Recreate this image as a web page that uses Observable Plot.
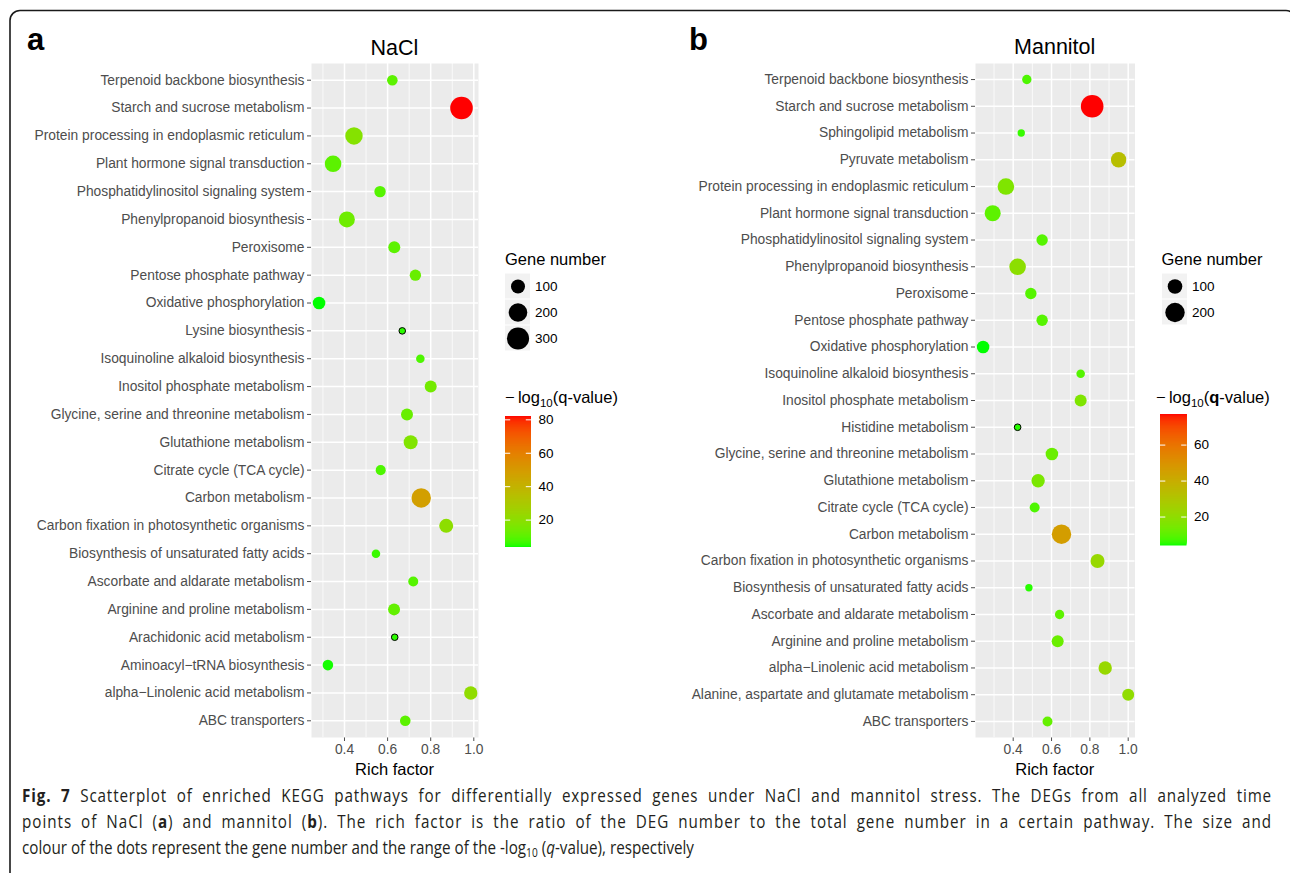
<!DOCTYPE html>
<html><head><meta charset="utf-8">
<script src="https://cdn.jsdelivr.net/npm/d3@7"></script>
<script src="https://cdn.jsdelivr.net/npm/@observablehq/plot@0.6"></script>
<style>
body{margin:0;background:#fff;}
#wrap{position:relative;width:1290px;height:873px;overflow:hidden;font-family:"Liberation Sans",Arial,sans-serif;background:#fff;}
.abs{position:absolute;}
.abs svg{display:block;overflow:visible;}
#cap{position:absolute;left:22px;top:782px;font-family:"Open Sans",sans-serif;font-size:18px;line-height:26px;color:#231F20;transform-origin:0 0;}
#cap .ln{white-space:nowrap;}
#cap sub{font-size:12px;line-height:0;vertical-align:-3px;}
</style></head><body><div id="wrap"></div>
<script>
// ---------- data: panel a (NaCl), top to bottom ----------
const namesA = [
"Terpenoid backbone biosynthesis","Starch and sucrose metabolism","Protein processing in endoplasmic reticulum",
"Plant hormone signal transduction","Phosphatidylinositol signaling system","Phenylpropanoid biosynthesis",
"Peroxisome","Pentose phosphate pathway","Oxidative phosphorylation","Lysine biosynthesis",
"Isoquinoline alkaloid biosynthesis","Inositol phosphate metabolism","Glycine, serine and threonine metabolism",
"Glutathione metabolism","Citrate cycle (TCA cycle)","Carbon metabolism","Carbon fixation in photosynthetic organisms",
"Biosynthesis of unsaturated fatty acids","Ascorbate and aldarate metabolism","Arginine and proline metabolism",
"Arachidonic acid metabolism","Aminoacyl\u2212tRNA biosynthesis","alpha\u2212Linolenic acid metabolism","ABC transporters"];
const richA  = [0.622,0.943,0.444,0.347,0.565,0.411,0.631,0.729,0.282,0.668,0.752,0.800,0.690,0.707,0.568,0.756,0.872,0.546,0.719,0.630,0.633,0.323,0.986,0.682];
const genesA = [48,315,171,152,58,139,67,58,76,11,26,67,67,100,41,221,100,26,41,67,11,48,89,48];
const qA     = [10,82,18,10,9,13,10,12,3.6,5,8,14,12,17,8,48,20,6,9,11,5,4,21,10];
const outlinedA = ["Lysine biosynthesis","Arachidonic acid metabolism"];

// ---------- data: panel b (Mannitol), top to bottom ----------
const namesB = [
"Terpenoid backbone biosynthesis","Starch and sucrose metabolism","Sphingolipid metabolism","Pyruvate metabolism",
"Protein processing in endoplasmic reticulum","Plant hormone signal transduction","Phosphatidylinositol signaling system",
"Phenylpropanoid biosynthesis","Peroxisome","Pentose phosphate pathway","Oxidative phosphorylation",
"Isoquinoline alkaloid biosynthesis","Inositol phosphate metabolism","Histidine metabolism",
"Glycine, serine and threonine metabolism","Glutathione metabolism","Citrate cycle (TCA cycle)","Carbon metabolism",
"Carbon fixation in photosynthetic organisms","Biosynthesis of unsaturated fatty acids","Ascorbate and aldarate metabolism",
"Arginine and proline metabolism","alpha\u2212Linolenic acid metabolism","Alanine, aspartate and glutamate metabolism","ABC transporters"];
const richB  = [0.471,0.812,0.442,0.950,0.362,0.293,0.551,0.423,0.492,0.551,0.243,0.752,0.752,0.423,0.602,0.530,0.512,0.652,0.840,0.482,0.642,0.632,0.880,1.000,0.579];
const genesB = [30,285,14,114,137,126,52,137,52,52,68,23,60,10,68,80,36,200,90,14,30,60,80,60,36];
const qB     = [8,77,6,33,16,10,9,19,9,9,3.9,9,16,5,12,15,8,46,22,5,10,12,22,20,11];
const outlinedB = ["Histidine metabolism"];

// ---------- tick labels ----------
const xMajor = [0.4,0.6,0.8,1.0];
const xMinor = [0.3,0.5,0.7,0.9];
const sizeBreaksA = [100,200,300];
const sizeBreaksB = [100,200];
const colorTicksA = [20,40,60,80];
const colorTicksB = [20,40,60];

const FONT = "Liberation Sans, Arial, Helvetica, sans-serif";
const wrap = document.getElementById("wrap");
function place(node, left, top) {
  const d = document.createElement("div");
  d.className = "abs"; d.style.left = left + "px"; d.style.top = top + "px";
  d.appendChild(node); wrap.appendChild(d);
}
function colorScale(dom) {
  return {type: "linear", domain: dom, range: ["#00FF00", "#FF0000"], interpolate: "lab"};
}

function panel(names, rich, genes, q, outlined, xDomain, rRange, width, marginLeft, marginRight) {
  const data = names.map((n, i) => ({name: n, rich: rich[i], genes: genes[i], q: q[i]}));
  const cDom = d3.extent(q);
  return Plot.plot({
    width, height: 790, marginLeft, marginRight, marginTop: 63, marginBottom: 53,
    style: {fontFamily: FONT, fontSize: "13.8px", color: "#4D4D4D", background: "transparent", overflow: "visible"},
    x: {domain: xDomain, ticks: xMajor, tickFormat: d3.format(".1f"), tickSize: 4, tickPadding: 3, label: null},
    y: {type: "point", domain: names, padding: 0.6, round: false, tickSize: 4, tickPadding: 3, label: null},
    r: {type: "sqrt", domain: [0, 300], range: rRange},
    color: colorScale(cDom),
    marks: [
      Plot.frame({fill: "#EBEBEB", stroke: null}),
      Plot.ruleX(xMinor.filter(v => v > xDomain[0] && v < xDomain[1]), {stroke: "white", strokeWidth: 0.75}),
      Plot.ruleX(xMajor, {stroke: "white", strokeWidth: 1.5}),
      Plot.ruleY(names, {y: d => d, stroke: "white", strokeWidth: 1.5}),
      Plot.dot(data.filter(d => !outlined.includes(d.name)), {x: "rich", y: "name", r: "genes", fill: "q"}),
      Plot.dot(data.filter(d => outlined.includes(d.name)), {x: "rich", y: "name", r: "genes", fill: "q", stroke: "black", strokeWidth: 1})
    ]
  });
}

function sizeLegend(values, rRange) {
  return Plot.plot({
    width: 60, height: values.length * 26, marginLeft: 0, marginRight: 35, marginTop: 0, marginBottom: 0,
    style: {fontFamily: FONT, fontSize: "13.5px", color: "black", background: "transparent", overflow: "visible"},
    x: {type: "band", domain: ["k"], axis: null, padding: 0, round: false},
    y: {type: "band", domain: values, axis: null, paddingInner: 0.04, paddingOuter: 0.02, round: false},
    r: {type: "sqrt", domain: [0, 300], range: rRange},
    marks: [
      Plot.cell(values, {x: () => "k", y: d => d, fill: "#F2F2F2"}),
      Plot.dot(values, {x: () => "k", y: d => d, r: d => d, fill: "black"}),
      Plot.text(values, {x: () => "k", y: d => d, text: d => String(d), dx: 17, textAnchor: "start", fill: "black", fontSize: 13.5})
    ]
  });
}

function colorLegend(q, ticks, barW, barH) {
  const dom = d3.extent(q);
  const n = 120;
  // stacked slices: each starts at its own level and reaches the top, drawn bottom-up (no seams)
  const slices = d3.range(n).map(i => ({
    a: dom[0] + (dom[1] - dom[0]) * i / n,
    mid: dom[0] + (dom[1] - dom[0]) * (i + 0.5) / n
  }));
  return Plot.plot({
    width: barW + 35, height: barH, marginLeft: 0, marginRight: 35, marginTop: 0, marginBottom: 0,
    style: {fontFamily: FONT, fontSize: "13.5px", color: "black", background: "transparent", overflow: "visible"},
    x: {domain: [0, 1], axis: null},
    y: {domain: dom, axis: null},
    color: colorScale(dom),
    marks: [
      Plot.rect(slices, {x1: 0, x2: 1, y1: "a", y2: dom[1], fill: "mid"}),
      Plot.ruleY(ticks, {x1: 0, x2: 0.2, stroke: "white", strokeWidth: 1}),
      Plot.ruleY(ticks, {x1: 0.8, x2: 1, stroke: "white", strokeWidth: 1}),
      Plot.axisY(ticks, {anchor: "right", tickSize: 0, tickPadding: 7, fontSize: 13.5, fill: "black", label: null})
    ]
  });
}

// main panels
const rRangeA = [1.45, 11.07];
const rRangeB = [1.5, 11.55];
place(panel(namesA, richA, genesA, qA, outlinedA, [0.2469, 1.0218], rRangeA, 490, 311, 12), 0, 0);
place(panel(namesB, richB, genesB, qB, outlinedB, [0.2033, 1.0355], rRangeB, 505, 335, 10.5), 640, 0);

// legends
place(sizeLegend(sizeBreaksA, rRangeA), 505, 273);
place(sizeLegend(sizeBreaksB, rRangeB), 1162, 273);
place(colorLegend(qA, colorTicksA, 26, 131), 505, 416);
place(colorLegend(qB, colorTicksB, 26.5, 131.5), 1160, 413.5);

// overlay text: panel letters, titles, axis titles, legend titles, border
const NS = "http://www.w3.org/2000/svg";
const ov = document.createElementNS(NS, "svg");
ov.setAttribute("width", 1290); ov.setAttribute("height", 873);
ov.style.position = "absolute"; ov.style.left = "0px"; ov.style.top = "0px"; ov.style.pointerEvents = "none";
wrap.appendChild(ov);
function txt(x, y, parts, opts = {}) {
  const t = document.createElementNS(NS, "text");
  t.setAttribute("x", x); t.setAttribute("y", y);
  t.setAttribute("font-family", opts.family || FONT);
  t.setAttribute("font-size", opts.size || 13);
  t.setAttribute("fill", opts.fill || "black");
  if (opts.anchor) t.setAttribute("text-anchor", opts.anchor);
  if (opts.weight) t.setAttribute("font-weight", opts.weight);
  for (const p of parts) {
    const s = document.createElementNS(NS, "tspan");
    if (typeof p === "string") s.textContent = p;
    else {
      s.textContent = p.t;
      if (p.b) s.setAttribute("font-weight", "bold");
      if (p.size) s.setAttribute("font-size", p.size);
      if (p.dy) s.setAttribute("dy", p.dy);
    }
    t.appendChild(s);
  }
  ov.appendChild(t);
}
const border = document.createElementNS(NS, "rect");
border.setAttribute("x", 10); border.setAttribute("y", 10.5);
border.setAttribute("width", 1286); border.setAttribute("height", 900);
border.setAttribute("rx", 10); border.setAttribute("fill", "none");
border.setAttribute("stroke", "#1a1a1a"); border.setAttribute("stroke-width", 1.6);
ov.appendChild(border);

txt(27, 50, ["a"], {size: 31, weight: "bold"});
txt(689, 50, ["b"], {size: 31, weight: "bold"});
txt(394.5, 54.5, ["NaCl"], {size: 21.5, anchor: "middle"});
txt(1054.7, 54, ["Mannitol"], {size: 21.5, anchor: "middle"});
txt(394.5, 775, ["Rich factor"], {size: 16.5, anchor: "middle"});
txt(1054.7, 775, ["Rich factor"], {size: 16.5, anchor: "middle"});
txt(505, 265, ["Gene number"], {size: 16.5});
txt(1161.5, 265, ["Gene number"], {size: 16.5});
txt(505, 402.5, ["\u2212\u2009log", {t: "10", size: 11.5, dy: 4}, {t: "(q-value)", dy: -4}], {size: 16.5});
txt(1156, 402.5, ["\u2212\u2009log", {t: "10", size: 11.5, dy: 4}, {t: "(", dy: -4}, {t: "q", b: true}, "-value)"], {size: 16.5});

// caption (HTML, condensed; lines 1-2 spread to the full width)
const cap = document.createElement("div");
cap.id = "cap";
cap.innerHTML =
  '<div class="ln"><span id="l1"><b>Fig. 7</b> Scatterplot of enriched KEGG pathways for differentially expressed genes under NaCl and mannitol stress. The DEGs from all analyzed time</span></div>' +
  '<div class="ln"><span id="l2">points of NaCl (<b>a</b>) and mannitol (<b>b</b>). The rich factor is the ratio of the DEG number to the total gene number in a certain pathway. The size and</span></div>' +
  '<div class="ln"><span id="l3">colour of the dots represent the gene number and the range of the -log<sub>10</sub> (<i>q</i>-value), respectively</span></div>';
wrap.appendChild(cap);
const w3 = document.getElementById("l3").getBoundingClientRect().width;
const k = 672 / w3;
for (const id of ["l1", "l2"]) {
  const el = document.getElementById(id);
  const w = el.getBoundingClientRect().width;
  const extra = 1250 / k - w;
  const txtc = el.textContent;
  const nChars = txtc.length;
  const nSpaces = (txtc.match(/ /g) || []).length;
  el.style.letterSpacing = (0.55 * extra / nChars) + "px";
  el.style.wordSpacing = (0.45 * extra / nSpaces) + "px";
}
cap.style.transform = `scaleX(${k})`;
</script></body></html>
